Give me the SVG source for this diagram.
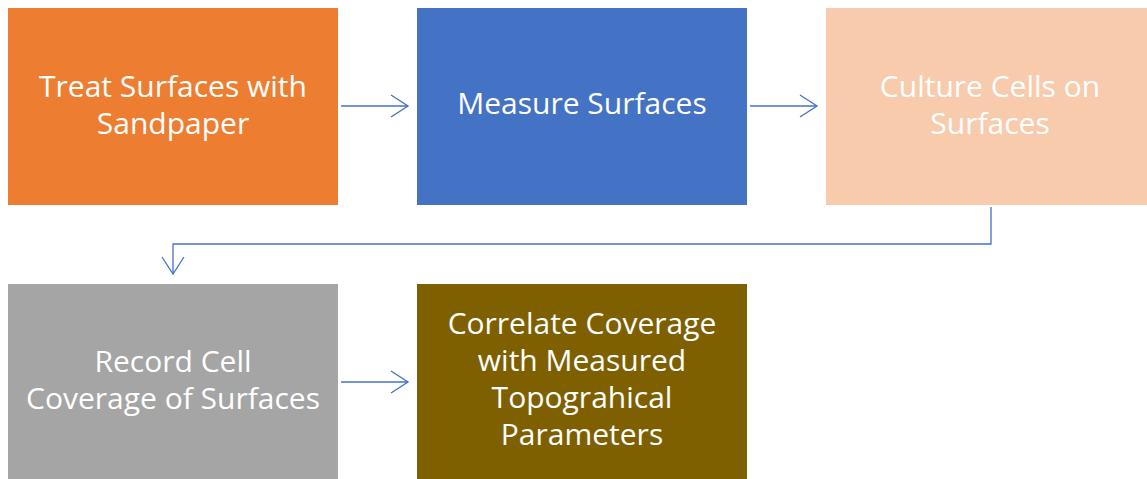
<svg xmlns="http://www.w3.org/2000/svg" width="1147" height="479" viewBox="0 0 1147 479">
  <defs>
    <marker id="chev" viewBox="0 0 20 24" refX="18" refY="12" markerWidth="20" markerHeight="24" markerUnits="userSpaceOnUse" orient="auto">
      <path d="M1,1 L18,12 L1,23" fill="none" stroke="#4472C4" stroke-width="1.3"/>
    </marker>
  </defs>
  <style>
    .lbl { font-family: "Open Sans", "Liberation Sans", sans-serif; font-size: 30px; fill: #FFFFFF; text-anchor: middle; }
    .conn { fill: none; stroke: #4472C4; stroke-width: 1.3; }
  </style>
  <rect width="1147" height="479" fill="#FFFFFF"/>

  <g id="treat">
    <rect x="8" y="8" width="330" height="197" fill="#ED7D31"/>
    <text class="lbl" x="173" y="97">Treat Surfaces with</text>
    <text class="lbl" x="173" y="134">Sandpaper</text>
  </g>

  <g id="measure">
    <rect x="417" y="8" width="330" height="197" fill="#4472C4"/>
    <text class="lbl" x="582" y="114">Measure Surfaces</text>
  </g>

  <g id="culture">
    <rect x="826" y="8" width="330" height="197" fill="#F8CBAD"/>
    <text class="lbl" x="990" y="97">Culture Cells on</text>
    <text class="lbl" x="990" y="134">Surfaces</text>
  </g>

  <g id="record">
    <rect x="8" y="284" width="330" height="195" fill="#A5A5A5"/>
    <text class="lbl" x="173" y="372">Record Cell</text>
    <text class="lbl" x="173" y="409">Coverage of Surfaces</text>
  </g>

  <g id="correlate">
    <rect x="417" y="284" width="330" height="195" fill="#7F6000"/>
    <text class="lbl" x="582" y="334">Correlate Coverage</text>
    <text class="lbl" x="582" y="371">with Measured</text>
    <text class="lbl" x="582" y="408">Topograhical</text>
    <text class="lbl" x="582" y="445">Parameters</text>
  </g>

  <g id="connectors">
    <path class="conn" d="M341,106 L408,106" marker-end="url(#chev)"/>
    <path class="conn" d="M750,106 L817,106" marker-end="url(#chev)"/>
    <path class="conn" d="M991,207 L991,244 L173,244 L173,274" marker-end="url(#chev)"/>
    <path class="conn" d="M341,382 L408,382" marker-end="url(#chev)"/>
  </g>
</svg>
